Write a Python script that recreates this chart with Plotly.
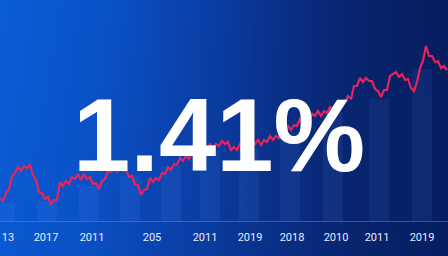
import plotly.graph_objects as go

# ---- data ----
line_x = list(range(0, 448, 3))
line_h = [23, 20, 28, 32, 44, 48, 54, 50, 55, 53,
          56, 46, 41, 29, 28, 22, 24, 17, 21, 21,
          39, 35, 40, 37, 44, 42, 47, 41, 47, 42,
          44, 37, 38, 32, 40, 42, 50, 49, 53, 49,
          55, 50, 51, 44, 45, 37, 36, 26, 31, 32,
          43, 39, 43, 41, 48, 47, 54, 51, 57, 56,
          63, 60, 65, 62, 69, 67, 72, 67, 73, 71,
          77, 73, 77, 75, 80, 77, 79, 71, 74, 71,
          77, 73, 77, 73, 79, 77, 81, 76, 81, 79,
          85, 81, 85, 83, 90, 90, 95, 91, 96, 95,
          102, 98, 103, 100, 107, 105, 110, 105, 110, 108,
          114, 111, 115, 113, 120, 119, 125, 122, 135, 135,
          143, 139, 143, 140, 140, 132, 130, 124, 131, 131,
          145, 147, 149, 144, 147, 141, 142, 133, 130, 139,
          153, 160, 175, 165, 165, 159, 160, 153, 155, 151]

bar_x = [5, 47, 89, 130, 171, 210, 249, 290, 333, 379, 422]
bar_h = [18, 20, 35, 45, 55, 70, 72, 88, 108, 122, 152]

tick_vals = [8, 46, 92, 152, 205, 250, 292, 336, 377, 422]
tick_text = ["13", "2017", "2011", "205", "2011", "2019", "2018", "2010", "2011", "2019"]

headline = "1.41%"

# background gradient corners (0 = bright blue, 1 = deep navy)
bg_z = [[0.10, 0.97],   # bottom row
        [0.0, 1.0]]     # top row

fig = go.Figure()

fig.add_trace(go.Heatmap(
    z=bg_z, x=[0, 1], y=[0, 1], zsmooth="best", showscale=False, hoverinfo="skip",
    colorscale=[[0.0, "#0b5cd7"], [0.25, "#0a51c6"], [0.5, "#0a3b9f"],
                [0.75, "#082672"], [1.0, "#061c5e"]],
    xaxis="x", yaxis="y"))

fig.add_trace(go.Bar(
    x=bar_x, y=bar_h, width=20, xaxis="x2", yaxis="y2",
    marker=dict(color="rgba(110,160,255,0.09)", line=dict(width=0)),
    hoverinfo="skip"))

fig.add_trace(go.Scatter(
    x=line_x, y=line_h, mode="lines", xaxis="x2", yaxis="y2",
    line=dict(color="#e6245c", width=2.2), hoverinfo="skip"))

fig.add_annotation(
    text=headline, xref="paper", yref="paper", x=0.489, y=0.47,
    xanchor="center", yanchor="middle", showarrow=False,
    font=dict(family="Liberation Sans, Arial, sans-serif", size=103, color="white",
              weight="bold"))

fig.update_layout(
    width=448, height=256, margin=dict(l=0, r=0, t=0, b=0, autoexpand=False),
    paper_bgcolor="#0a3a9e", plot_bgcolor="rgba(0,0,0,0)",
    showlegend=False, bargap=0,
    xaxis=dict(domain=[0, 1], range=[0, 1], visible=False, fixedrange=True),
    yaxis=dict(domain=[0, 1], range=[0, 1], visible=False, fixedrange=True),
    xaxis2=dict(domain=[0, 1], range=[0, 448], anchor="y2", automargin=False,
                tickvals=tick_vals, ticktext=tick_text, showgrid=False, zeroline=False,
                showline=True, linecolor="rgba(90,150,255,0.45)", linewidth=1,
                ticks="", ticklabelstandoff=6, ticklabeloverflow="allow",
                tickfont=dict(family="Roboto, sans-serif", size=11, color="#e6edff")),
    yaxis2=dict(domain=[35 / 256, 1], range=[0, 221], anchor="x2", visible=False),
)

fig.write_html("out.html")
